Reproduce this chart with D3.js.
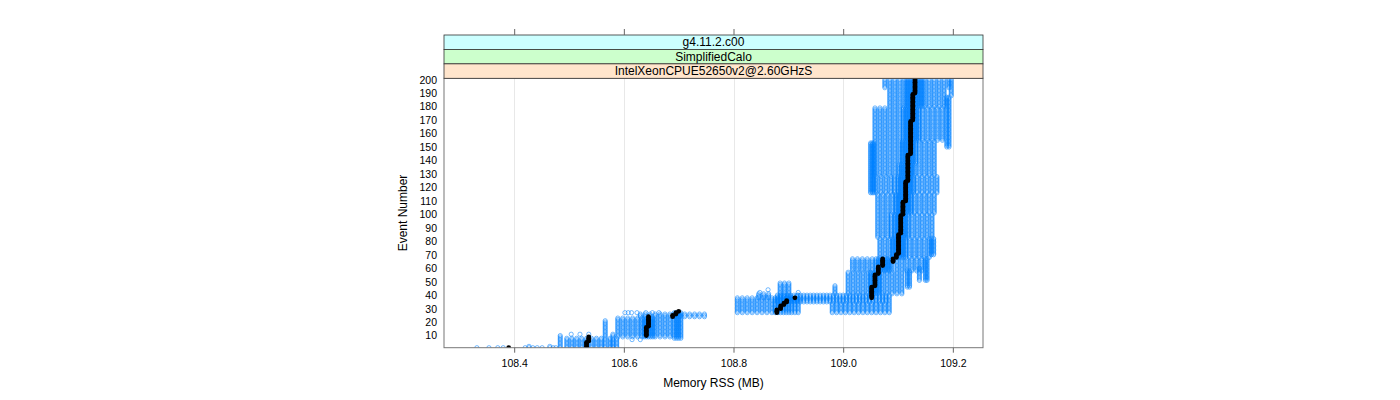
<!DOCTYPE html>
<html><head><meta charset="utf-8">
<script src="https://cdn.jsdelivr.net/npm/d3@7"></script>
<style>
body{margin:0;background:#fff;}
svg{display:block;}
text{font-family:"Liberation Sans",Arial,Helvetica,sans-serif;}
</style>
</head><body>
<svg id="chart" width="1400" height="400"></svg>
<script>
// ---------------- data ----------------
const stripLabels = ["g4.11.2.c00", "SimplifiedCalo", "IntelXeonCPUE52650v2@2.60GHzS"];
const xTicks = [108.4, 108.6, 108.8, 109.0, 109.2];
const yTicks = [10,20,30,40,50,60,70,80,90,100,110,120,130,140,150,160,170,180,190,200];
const xLabel = "Memory RSS (MB)";
const yLabel = "Event Number";

// blue (all runs): blocks of event ranges, each with the memory columns seen in them
const blockFirst = [194,188,180,150,155,138,116,129,116,101,83,68,70,58,51,51,41,46,35,27,27,38,39,41,9,8,24,1,1,1,1];
const blockLast  = [200,200,193,187,179,154,153,137,128,115,100,82,82,67,67,60,57,58,40,34,38,41,49,47,23,27,26,21,8,10,11];
const blockColumns = [
  [109.076,109.085,109.094,109.103,109.112,109.116,109.120,109.124,109.128,109.132,109.136,109.140,109.144,109.148,109.157,109.166,109.175,109.184,109.193],
  [109.197],
  [109.085,109.094,109.103,109.112,109.116,109.120,109.124,109.128,109.132,109.136,109.140,109.144,109.148,109.157,109.166,109.175,109.184],
  [109.189,109.193],
  [109.058,109.067,109.076,109.085,109.094,109.103,109.110,109.114,109.118,109.122,109.126,109.130,109.134,109.138,109.145,109.154,109.163,109.172,109.181],
  [109.058,109.067,109.076,109.085,109.094,109.103,109.108,109.112,109.116,109.120,109.124,109.128,109.132,109.139,109.148,109.157,109.166],
  [109.050,109.053,109.056],
  [109.058,109.067,109.076,109.085,109.094,109.102,109.106,109.110,109.114,109.118,109.122,109.126,109.130,109.139,109.148,109.157,109.166],
  [109.060,109.069,109.078,109.087,109.094,109.100,109.104,109.108,109.112,109.116,109.120,109.124,109.128,109.135,109.144,109.153,109.162,109.171],
  [109.063,109.072,109.081,109.090,109.096,109.100,109.104,109.108,109.112,109.116,109.120,109.124,109.130,109.139,109.148,109.157,109.166],
  [109.063,109.072,109.081,109.088,109.094,109.098,109.102,109.106,109.110,109.114,109.118,109.126,109.135,109.144,109.153,109.162],
  [109.067,109.076,109.085,109.090,109.094,109.098,109.102,109.106,109.110,109.114,109.121,109.130,109.139,109.148,109.157],
  [109.161,109.165],
  [109.017,109.026,109.035,109.044,109.053,109.060,109.064,109.068,109.072,109.076,109.080,109.084,109.088,109.098,109.107,109.116,109.125,109.134,109.143],
  [109.150,109.153],
  [109.139],
  [109.009,109.018,109.027,109.036,109.045,109.050,109.054,109.058,109.062,109.066,109.071,109.080,109.089,109.098,109.107],
  [109.117,109.121],
  [108.880,108.886,108.892,108.898,108.904,108.910,108.916,108.922,108.928,108.934,108.940,108.946,108.952,108.958,108.964,108.970,108.976,108.982,108.988,108.994,109.000,109.006,109.012,109.018,109.024,109.030,109.036,109.042,109.048,109.054,109.060,109.066,109.072,109.078,109.084],
  [108.980,108.988,108.996,109.004,109.012,109.020,109.028,109.036,109.044,109.052,109.060,109.068,109.076,109.084],
  [108.807,108.816,108.825,108.834,108.843,108.852,108.861,108.870,108.876,108.881,108.886,108.891,108.896,108.901,108.906,108.912,108.918],
  [108.846,108.855,108.864],
  [108.885,108.893,108.901],
  [108.985],
  [108.589,108.598,108.607,108.616,108.625,108.633,108.637,108.641,108.645,108.649,108.653,108.657,108.666,108.675,108.684],
  [108.692,108.696,108.700,108.704],
  [108.630,108.639,108.648,108.657,108.666,108.675,108.684,108.693,108.702,108.711,108.720,108.729,108.738,108.747],
  [108.566],
  [108.496,108.505,108.514,108.523,108.532,108.541,108.550,108.559,108.575,108.587],
  [108.484],
  [108.580]
];

// isolated blue points
const isoEvent  = [1,1,1,1,1,1,1,1,1,1,1,1,2,2,11,11,11,7,7,27,27,27,27,27,27,27,42,42,44,40];
const isoMemory = [108.332,108.354,108.370,108.380,108.420,108.427,108.434,108.442,108.451,108.465,108.471,108.476,
                   108.427,108.465,108.504,108.520,108.536,108.615,108.630,
                   108.602,108.608,108.614,108.624,108.640,108.652,108.664,108.848,108.918,108.863,108.918];

// black (highlighted run): constant-memory runs of events
const blackFirst  = [1,2,6,10,17,24,26,28,27,30,33,35,38,38,47,56,62,65,68,71,86,100,110,125,145,170,190];
const blackLast   = [1,5,9,16,24,25,27,28,29,32,34,36,38,46,55,61,67,67,70,85,99,109,124,144,169,189,200];
const blackMemory = [108.390,108.532,108.536,108.641,108.645,108.689,108.695,108.700,108.879,108.886,108.892,108.897,108.912,
                     109.052,109.058,109.064,109.072,109.091,109.097,109.101,109.105,109.109,109.114,109.118,109.123,109.127,109.131];

// ---------------- layout ----------------
const L = 444, R = 983, T = 78.3, B = 347.7;
const stripTop = 35, stripH = (T - stripTop) / 3;
const stripFill = ["#ccffff", "#ccffcc", "#ffe5cc"];
const blue = "#0080ff";

const svg = d3.select("#chart");
const x = d3.scaleLinear().domain([108.272, 109.255]).range([L, R]);
const y = d3.scaleLinear().domain([1, 201]).range([B, T]);

svg.append("rect").attr("width", 1400).attr("height", 400).attr("fill", "#fff");

// grid
svg.append("g").selectAll("line").data(xTicks).join("line")
  .attr("x1", d => Math.round(x(d)) + 0.5).attr("x2", d => Math.round(x(d)) + 0.5)
  .attr("y1", T).attr("y2", B)
  .attr("stroke", "#e8e8e8").attr("stroke-width", 1);

// clip
svg.append("clipPath").attr("id", "clip").append("rect")
  .attr("x", L).attr("y", T).attr("width", R - L).attr("height", B - T);

// points
const bluePts = [];
blockColumns.forEach((cols, i) => {
  for (let e = blockFirst[i]; e <= blockLast[i]; e++) cols.forEach(m => bluePts.push([e, m]));
});
isoEvent.forEach((e, i) => bluePts.push([e, isoMemory[i]]));

const blackPts = [];
blackMemory.forEach((m, i) => {
  for (let e = blackFirst[i]; e <= blackLast[i]; e++) blackPts.push([e, m]);
});

const plot = svg.append("g").attr("clip-path", "url(#clip)");
plot.append("g").selectAll("circle").data(bluePts).join("circle")
  .attr("cx", d => x(d[1])).attr("cy", d => y(d[0])).attr("r", 2.1)
  .attr("fill", "none").attr("stroke", blue).attr("stroke-width", 0.55);
plot.append("g").selectAll("circle").data(blackPts).join("circle")
  .attr("cx", d => x(d[1])).attr("cy", d => y(d[0])).attr("r", 2.4)
  .attr("fill", "#000");

// panel frame
svg.append("rect").attr("x", L).attr("y", T).attr("width", R - L).attr("height", B - T)
  .attr("fill", "none").attr("stroke", "#777").attr("stroke-width", 1);

// strips
stripLabels.forEach((lab, i) => {
  const sy = stripTop + i * stripH;
  svg.append("rect").attr("x", L).attr("y", sy).attr("width", R - L).attr("height", stripH)
    .attr("fill", stripFill[i]).attr("stroke", "#333").attr("stroke-width", 0.8);
  svg.append("text").attr("x", (L + R) / 2).attr("y", sy + stripH / 2).attr("dy", "0.35em")
    .attr("text-anchor", "middle").attr("font-size", 12).attr("fill", "#000").text(lab);
});

// axes
const fmt = d3.format(".1f");
const xb = svg.append("g").attr("transform", `translate(0,${B})`)
  .call(d3.axisBottom(x).tickValues(xTicks).tickFormat(fmt).tickSize(5).tickPadding(7));
const xt = svg.append("g").attr("transform", `translate(0,${stripTop})`)
  .call(d3.axisTop(x).tickValues(xTicks).tickFormat("").tickSize(6));
const yl = svg.append("g").attr("transform", `translate(${L},0)`)
  .call(d3.axisLeft(y).tickValues(yTicks).tickSize(0).tickPadding(7));
[xb, xt, yl].forEach(g => {
  g.select(".domain").remove();
  g.selectAll(".tick line").attr("stroke", "#666");
  g.selectAll("text").attr("font-size", 10.5).attr("fill", "#000")
    .attr("font-family", "'Liberation Sans',Arial,sans-serif");
});

// axis titles
svg.append("text").attr("x", (L + R) / 2).attr("y", 387).attr("text-anchor", "middle")
  .attr("font-size", 12).attr("fill", "#000").text(xLabel);
svg.append("text").attr("transform", `translate(407,${(T + B) / 2}) rotate(-90)`)
  .attr("text-anchor", "middle").attr("font-size", 12).attr("fill", "#000").text(yLabel);
</script>
</body></html>
